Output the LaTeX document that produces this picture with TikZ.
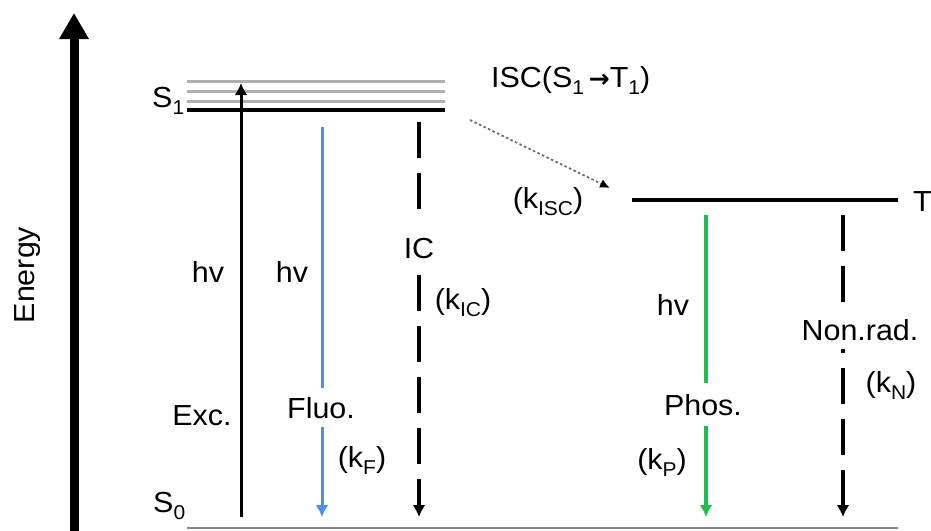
\documentclass[tikz,border=0pt]{standalone}
\usepackage{fontspec}
\setmainfont{Liberation Sans}[FakeStretch=1.05]
\newfontfamily\arrowfont{DejaVu Sans}
\usetikzlibrary{arrows.meta}

\definecolor{fluoblue}{RGB}{74,144,230}
\definecolor{phosgreen}{RGB}{30,190,80}
\definecolor{vibgray}{RGB}{175,175,175}
\definecolor{groundgray}{RGB}{135,135,135}
\definecolor{iscgray}{RGB}{110,110,110}

% lowered index, as in S_1 or k_F
\newcommand\lowidx[1]{\raisebox{-0.26em}{\fontsize{20}{20}\selectfont #1}}

\begin{document}
\begin{tikzpicture}[x=1pt,y=-1pt,
  lbl/.style={font=\fontsize{29}{32}\selectfont, inner sep=0pt, text=black},
  cut/.style={lbl, fill=white, inner xsep=3pt, inner ysep=9pt},
  level/.style={line width=4pt, line cap=butt},
  sublevel/.style={line width=3pt, draw=vibgray},
  ground/.style={line width=2pt, draw=groundgray},
  radarrow/.style={line width=3pt, -{Latex[length=12pt,width=13pt]}},
  dasharrow/.style={line width=4pt, dash pattern=on 36pt off 15pt, -{Latex[length=12pt,width=13pt]}},
  iscarrow/.style={line width=1.8pt, draw=iscgray, dash pattern=on 2.5pt off 2.5pt, -{Latex[length=10pt,width=9pt,color=black]}},
  axis/.style={line width=9pt, -{Triangle[length=26pt,width=28pt]}},
]
\clip (0,0) rectangle (931,530);
\fill[white] (0,0) rectangle (931,530);

% energy axis
\coordinate (ax0) at (74,540);
\coordinate (ax1) at (74,13);
\draw[axis] (ax0) -- (ax1);
\node[lbl, rotate=90] (energy) at (28,275) {Energy};

% S1 manifold: vibrational sublevels above the bottom level
\coordinate (s1a) at (187,81);  \coordinate (s1b) at (445,81);
\coordinate (s1c) at (187,91);  \coordinate (s1d) at (445,91);
\coordinate (s1e) at (187,101); \coordinate (s1f) at (445,101);
\coordinate (s1l) at (187,110); \coordinate (s1r) at (445,110);
\draw[sublevel] (s1a) -- (s1b);
\draw[sublevel] (s1c) -- (s1d);
\draw[sublevel] (s1e) -- (s1f);
\draw[level] (s1l) -- (s1r);
\node[lbl, anchor=base west] (s1lab) at (152,107) {S\lowidx{1}};

% S0 ground level
\coordinate (s0l) at (187,528); \coordinate (s0r) at (898,528);
\draw[ground] (s0l) -- (s0r);
\node[lbl, anchor=base west] (s0lab) at (153,512) {S\lowidx{0}};

% T1 level
\coordinate (t1l) at (632,200); \coordinate (t1r) at (898,200);
\draw[level] (t1l) -- (t1r);
\node[lbl, anchor=base west] (t1lab) at (913,211) {T\lowidx{1}};

% excitation
\coordinate (exc0) at (241,517); \coordinate (exc1) at (241,83);
\draw[radarrow] (exc0) -- (exc1);
\node[lbl, anchor=base] (hvexc) at (208,282) {hv};
\node[lbl, anchor=base] (exclab) at (202,425) {Exc.};

% fluorescence
\coordinate (fl0) at (322,127); \coordinate (fl1) at (322,517);
\draw[radarrow, draw=fluoblue] (fl0) -- (fl1);
\node[lbl, anchor=base] (hvfl) at (292,282) {hv};
\node[cut, anchor=base] (fllab) at (321,418) {Fluo.};
\node[lbl, anchor=base] (kf) at (362,467) {(k\lowidx{F})};

% internal conversion
\coordinate (ic0) at (419,122); \coordinate (ic1) at (419,517);
\draw[dasharrow] (ic0) -- (ic1);
\node[cut, anchor=base, inner ysep=15pt] (iclab) at (419,258) {IC};
\node[lbl, anchor=base] (kic) at (463,309) {(k\lowidx{IC})};

% intersystem crossing
\coordinate (isc0) at (470,120); \coordinate (isc1) at (610,188);
\draw[iscarrow] (isc0) -- (isc1);
\node[lbl, anchor=base west] (isclab) at (491,87)
  {ISC(S\lowidx{1}\,{\arrowfont\bfseries\fontsize{25}{25}\selectfont →}T\lowidx{1})};
\node[lbl, anchor=base] (kisc) at (548,208) {(k\lowidx{ISC})};

% phosphorescence
\coordinate (ph0) at (706,215); \coordinate (ph1) at (706,517);
\draw[radarrow, draw=phosgreen, line width=3.5pt] (ph0) -- (ph1);
\node[lbl, anchor=base] (hvph) at (673,315) {hv};
\node[cut, anchor=base, inner ysep=11pt] (phlab) at (703,415) {Phos.};
\node[lbl, anchor=base] (kp) at (662,469) {(k\lowidx{P})};

% non-radiative decay from T1
\coordinate (nr0) at (843,215); \coordinate (nr1) at (843,517);
\draw[dasharrow] (nr0) -- (nr1);
\node[cut, anchor=base] (nrlab) at (860,340) {Non.rad.};
\node[lbl, anchor=base] (kn) at (891,392) {(k\lowidx{N})};
\end{tikzpicture}
\end{document}
